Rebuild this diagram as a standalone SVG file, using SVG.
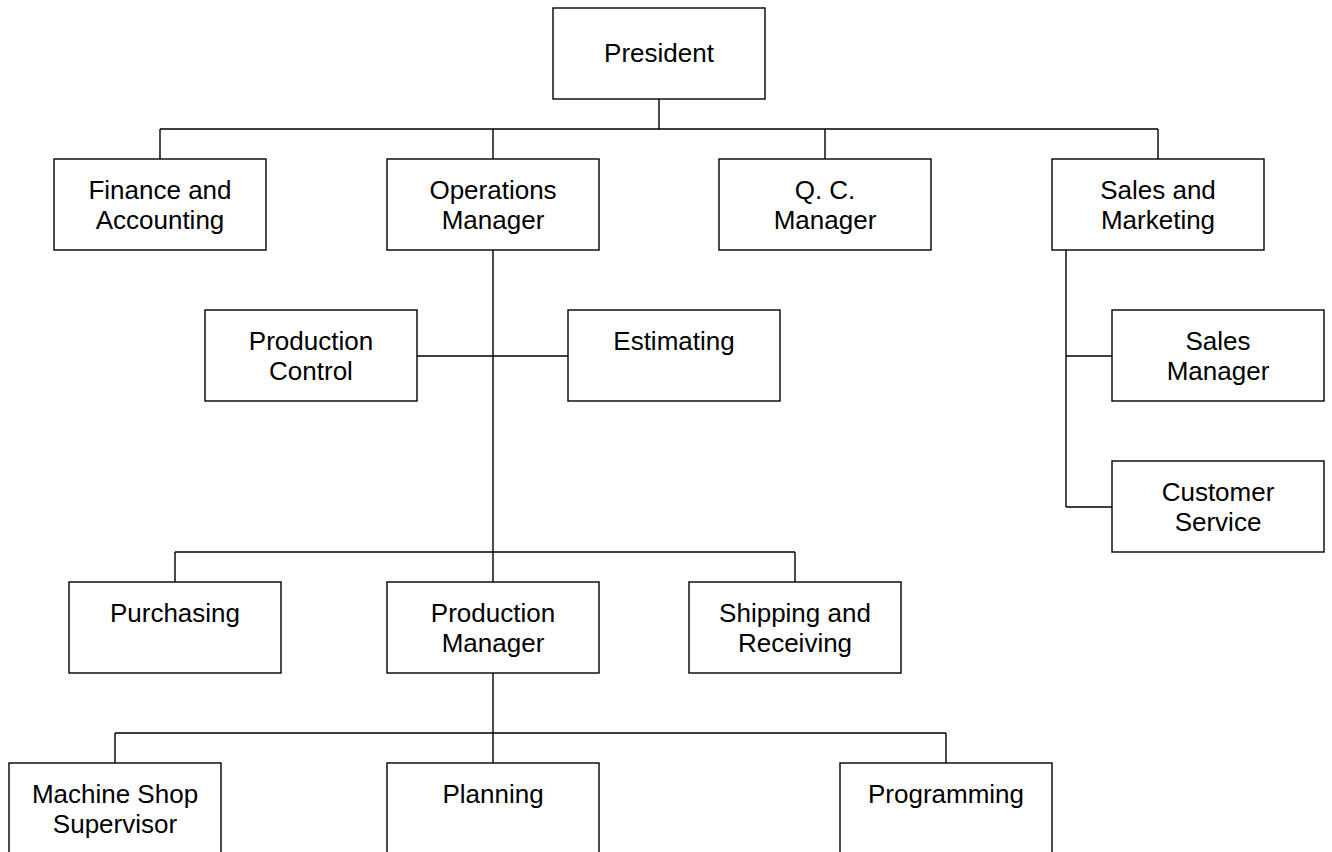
<svg xmlns="http://www.w3.org/2000/svg" width="1332" height="852" viewBox="0 0 1332 852">
<style>
.box{fill:#fff;stroke:#000;stroke-width:1.4}
.ln{fill:none;stroke:#000;stroke-width:1.4}
text{font-family:"Liberation Sans",Arial,sans-serif;font-size:26px;fill:#000;text-anchor:middle}
</style>
<rect width="1332" height="852" fill="#fff"/>
<g id="connectors">
<path class="ln" d="M659 99V129M160 129H1158M160 129V159M493 129V159M825 129V159M1158 129V159"/>
<path class="ln" d="M493 250V582M417 356H568M175 552H795M175 552V582M795 552V582"/>
<path class="ln" d="M1066 250V507M1066 356H1112M1066 507H1112"/>
<path class="ln" d="M493 673V763M115 733H946M115 733V763M946 733V763"/>
</g>
<g id="president"><rect class="box" x="553" y="8" width="212" height="91"/><text x="659" y="62">President</text></g>
<g id="finance"><rect class="box" x="54" y="159" width="212" height="91"/><text x="160" y="198.5">Finance and</text><text x="160" y="228.5">Accounting</text></g>
<g id="operations"><rect class="box" x="387" y="159" width="212" height="91"/><text x="493" y="198.5">Operations</text><text x="493" y="228.5">Manager</text></g>
<g id="qc"><rect class="box" x="719" y="159" width="212" height="91"/><text x="825" y="198.5">Q. C.</text><text x="825" y="228.5">Manager</text></g>
<g id="sales-marketing"><rect class="box" x="1052" y="159" width="212" height="91"/><text x="1158" y="198.5">Sales and</text><text x="1158" y="228.5">Marketing</text></g>
<g id="production-control"><rect class="box" x="205" y="310" width="212" height="91"/><text x="311" y="349.5">Production</text><text x="311" y="379.5">Control</text></g>
<g id="estimating"><rect class="box" x="568" y="310" width="212" height="91"/><text x="674" y="349.5">Estimating</text></g>
<g id="sales-manager"><rect class="box" x="1112" y="310" width="212" height="91"/><text x="1218" y="349.5">Sales</text><text x="1218" y="379.5">Manager</text></g>
<g id="customer-service"><rect class="box" x="1112" y="461" width="212" height="91"/><text x="1218" y="500.5">Customer</text><text x="1218" y="530.5">Service</text></g>
<g id="purchasing"><rect class="box" x="69" y="582" width="212" height="91"/><text x="175" y="621.5">Purchasing</text></g>
<g id="production-manager"><rect class="box" x="387" y="582" width="212" height="91"/><text x="493" y="621.5">Production</text><text x="493" y="651.5">Manager</text></g>
<g id="shipping"><rect class="box" x="689" y="582" width="212" height="91"/><text x="795" y="621.5">Shipping and</text><text x="795" y="651.5">Receiving</text></g>
<g id="machine-shop"><rect class="box" x="9" y="763" width="212" height="91"/><text x="115" y="802.5">Machine Shop</text><text x="115" y="832.5">Supervisor</text></g>
<g id="planning"><rect class="box" x="387" y="763" width="212" height="91"/><text x="493" y="802.5">Planning</text></g>
<g id="programming"><rect class="box" x="840" y="763" width="212" height="91"/><text x="946" y="802.5">Programming</text></g>
</svg>
